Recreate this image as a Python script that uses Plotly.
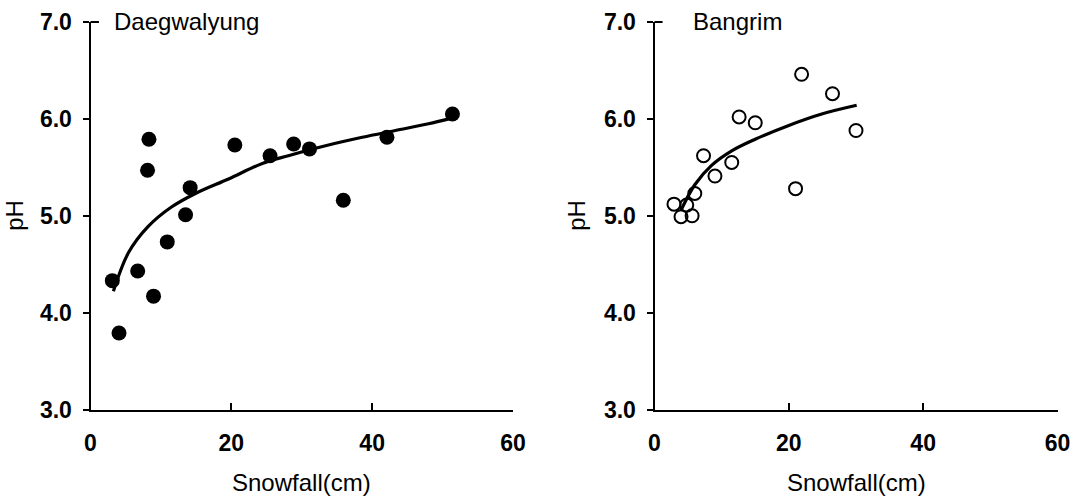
import plotly.graph_objects as go

# Daegwalyung observations (snowfall cm, pH)
dae_snow = [3.1, 4.05, 6.7, 8.1, 8.3, 8.95, 10.9, 13.5, 14.15, 20.5, 25.5, 28.85, 31.1, 35.9, 42.1, 51.4]
dae_ph = [4.33, 3.79, 4.43, 5.47, 5.79, 4.17, 4.73, 5.01, 5.29, 5.73, 5.62, 5.74, 5.69, 5.16, 5.81, 6.05]
# Daegwalyung fitted curve
dae_fit_snow = [3.25, 5.4, 8.2, 11.5, 14.9, 19.6, 24.4, 28.1, 33.8, 38.6, 43.3, 48.0, 50.9]
dae_fit_ph = [4.22, 4.62, 4.89, 5.09, 5.23, 5.38, 5.54, 5.62, 5.73, 5.81, 5.88, 5.95, 6.00]

# Bangrim observations
ban_snow = [2.9, 3.95, 4.8, 5.6, 6.0, 7.3, 9.0, 11.5, 12.6, 15.0, 21.0, 21.9, 26.5, 30.0]
ban_ph = [5.12, 4.99, 5.11, 5.00, 5.23, 5.62, 5.41, 5.55, 6.02, 5.96, 5.28, 6.46, 6.26, 5.88]
# Bangrim fitted curve
ban_fit_snow = [3.9, 6.0, 8.5, 11.5, 15.0, 19.9, 24.9, 30.1]
ban_fit_ph = [5.05, 5.32, 5.52, 5.67, 5.79, 5.93, 6.05, 6.14]

x_ticks = [0, 20, 40, 60]
y_ticks = [3.0, 4.0, 5.0, 6.0, 7.0]
y_labels = ["3.0", "4.0", "5.0", "6.0", "7.0"]
panel_names = ["Daegwalyung", "Bangrim"]

FONT = "Liberation Sans, Arial, sans-serif"
W, H = 1075, 497

fig = go.Figure()
fig.add_trace(go.Scatter(x=dae_snow, y=dae_ph, mode="markers", xaxis="x", yaxis="y",
                         marker=dict(size=15, color="black", line=dict(width=0))))
fig.add_trace(go.Scatter(x=dae_fit_snow, y=dae_fit_ph, mode="lines", xaxis="x", yaxis="y",
                         line=dict(color="black", width=3.2, shape="spline")))
fig.add_trace(go.Scatter(x=ban_snow, y=ban_ph, mode="markers", xaxis="x2", yaxis="y2",
                         marker=dict(size=13, color="black", symbol="circle-open",
                                     line=dict(width=2, color="black"))))
fig.add_trace(go.Scatter(x=ban_fit_snow, y=ban_fit_ph, mode="lines", xaxis="x2", yaxis="y2",
                         line=dict(color="black", width=3.2, shape="spline")))

xcommon = dict(range=[0, 60], tickvals=x_ticks, ticks="inside", ticklen=7, tickwidth=2,
               tickcolor="black", showline=True, linecolor="black", linewidth=2,
               showgrid=False, zeroline=False, ticklabelstandoff=12, automargin=False,
               tickfont=dict(family=FONT, size=23, color="black", weight="bold"))
ycommon = dict(range=[3.0, 7.0], tickvals=y_ticks, ticktext=y_labels, ticks="outside",
               ticklen=6, tickwidth=2, tickcolor="black", showline=True, linecolor="black",
               linewidth=2, showgrid=False, zeroline=False, ticklabelstandoff=6, automargin=False,
               tickfont=dict(family=FONT, size=23, color="black", weight="bold"))

ydom = [1 - 409.5 / H, 1 - 22 / H]
fig.update_layout(
    width=W, height=H,
    margin=dict(l=0, r=0, t=0, b=0),
    paper_bgcolor="white", plot_bgcolor="white",
    showlegend=False,
    xaxis=dict(domain=[90.5 / W, 513 / W], anchor="y", **xcommon),
    yaxis=dict(domain=ydom, anchor="x", **ycommon),
    xaxis2=dict(domain=[654.5 / W, 1057.5 / W], anchor="y2", **xcommon),
    yaxis2=dict(domain=ydom, anchor="x2", **ycommon),
)

anns = []
shapes = []
for i, (xr, yr) in enumerate([("x", "y"), ("x2", "y2")]):
    anns.append(dict(text="Snowfall(cm)", xref=xr + " domain", yref="paper", x=0.5,
                     y=1 - 482 / H, xanchor="center", yanchor="middle", showarrow=False,
                     font=dict(family=FONT, size=24, color="black")))
    anns.append(dict(text="pH", xref="paper", yref=yr + " domain",
                     x=(15 if i == 0 else 577) / W, y=0.5, textangle=-90,
                     xanchor="center", yanchor="middle", showarrow=False,
                     font=dict(family=FONT, size=24, color="black")))
    # short inward mark at the top of the y axis
    shapes.append(dict(type="line", xref=xr + " domain", yref=yr + " domain",
                       x0=0, x1=0.02, y0=1, y1=1, line=dict(color="black", width=2)))
anns.append(dict(text=panel_names[0], xref="x", yref="y", x=3.0, y=7.0, xanchor="left",
                 yanchor="middle", showarrow=False, font=dict(family=FONT, size=24, color="black")))
anns.append(dict(text=panel_names[1], xref="x2", yref="y2", x=5.5, y=7.0, xanchor="left",
                 yanchor="middle", showarrow=False, font=dict(family=FONT, size=24, color="black")))
fig.update_layout(annotations=anns, shapes=shapes)

fig.write_html("out.html", config={"displayModeBar": False},
               post_script="document.body.style.margin='0';document.body.style.overflow='hidden';")
